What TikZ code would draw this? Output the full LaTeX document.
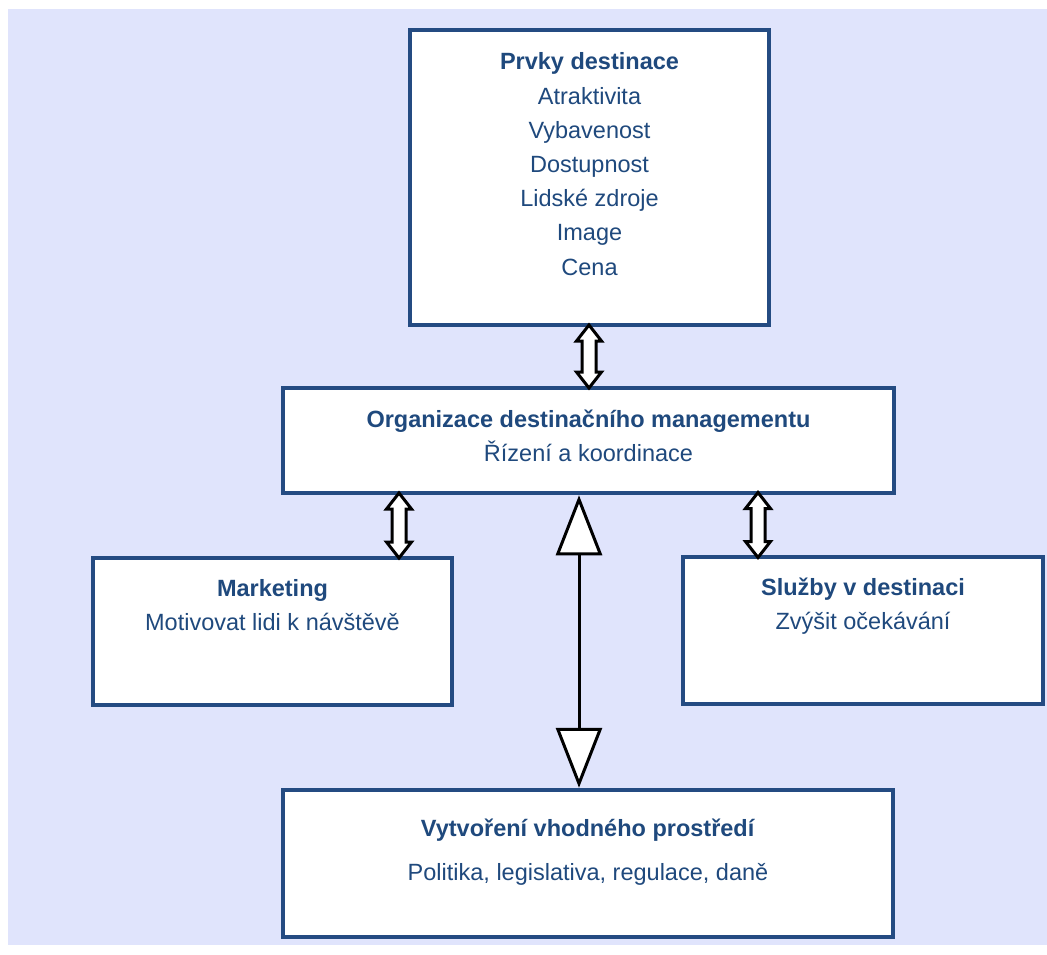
\documentclass[tikz,border=0pt]{standalone}
\usepackage{fontspec}
\setmainfont{Liberation Sans}
\usetikzlibrary{arrows.meta}
\usetikzlibrary{shapes.arrows}
\usetikzlibrary{calc}

\definecolor{boxBlue}{HTML}{244B82}
\definecolor{textBlue}{HTML}{1F497D}
\definecolor{bgLavender}{HTML}{E0E4FC}
\newcommand{\boxFont}{\fontsize{23.5}{34.2}\selectfont}

\begin{document}
\begin{tikzpicture}[x = 1pt, y = -1pt, font = \boxFont]
	\tikzstyle{boxStyle} = [shape = rectangle, draw = boxBlue, line width = 4.5pt, fill = white, inner sep = 0pt]
	\tikzstyle{textStyle} = [text = textBlue, align = center, inner sep = 0pt, anchor = north]
	\tikzstyle{dblArrowStyle} = [shape = double arrow, draw = black, fill = white, line width = 3pt, rotate = 90, inner sep = 5.5pt, double arrow head extend = 5.5pt, double arrow tip angle = 76]
	\tikzstyle{bigArrowStyle} = [draw = black, line width = 3pt, {Triangle[length = 60pt, width = 46pt, fill = white]}-{Triangle[length = 60pt, width = 46pt, fill = white]}]
	% background
	\useasboundingbox (0,0) rectangle (1047,954);
	\fill[bgLavender] (8,9) rectangle (1047,945);
	% boxes
	\node[boxStyle, minimum width = 359pt, minimum height = 295pt] (prvky) at (589.5, 177.5) {};
	\node[boxStyle, minimum width = 611pt, minimum height = 105pt] (odm) at (588.5, 440.5) {};
	\node[boxStyle, minimum width = 359pt, minimum height = 147pt] (mkt) at (272.5, 631.5) {};
	\node[boxStyle, minimum width = 360pt, minimum height = 147pt] (sluzby) at (863, 630.5) {};
	\node[boxStyle, minimum width = 610pt, minimum height = 147pt] (envir) at (588, 863.5) {};
	% texts
	\node[textStyle] (prvkyText) at ([yshift = -25pt]prvky.north) {\textbf{Prvky destinace}\\Atraktivita\\Vybavenost\\Dostupnost\\Lidské zdroje\\Image\\Cena};
	\node[textStyle] (odmText) at ([yshift = -24pt]odm.north) {\textbf{Organizace destinačního managementu}\\Řízení a koordinace};
	\node[textStyle] (mktText) at ([yshift = -23.5pt]mkt.north) {\textbf{Marketing}\\Motivovat lidi k návštěvě};
	\node[textStyle] (sluzbyText) at ([yshift = -23pt]sluzby.north) {\textbf{Služby v destinaci}\\Zvýšit očekávání};
	\node[textStyle] (envirText) at ([yshift = -30.5pt]envir.north) {\textbf{Vytvoření vhodného prostředí}\\[10pt]Politika, legislativa, regulace, daně};
	% arrows
	\node[dblArrowStyle, minimum height = 63pt] (arrTop) at ($(prvky.south)!0.5!(odm.north)$) {};
	\node[dblArrowStyle, minimum height = 65pt] (arrLeft) at ($(mkt.north)!0.5!(mkt.north |- odm.south) + (126.5, 0)$) {};
	\node[dblArrowStyle, minimum height = 65pt] (arrRight) at ($(sluzby.north)!0.5!(sluzby.north |- odm.south) + (-105, 0)$) {};
	\coordinate (bigAxis) at (579, 0);
	\draw[bigArrowStyle] (odm.south -| bigAxis) -- (envir.north -| bigAxis);
\end{tikzpicture}
\end{document}
